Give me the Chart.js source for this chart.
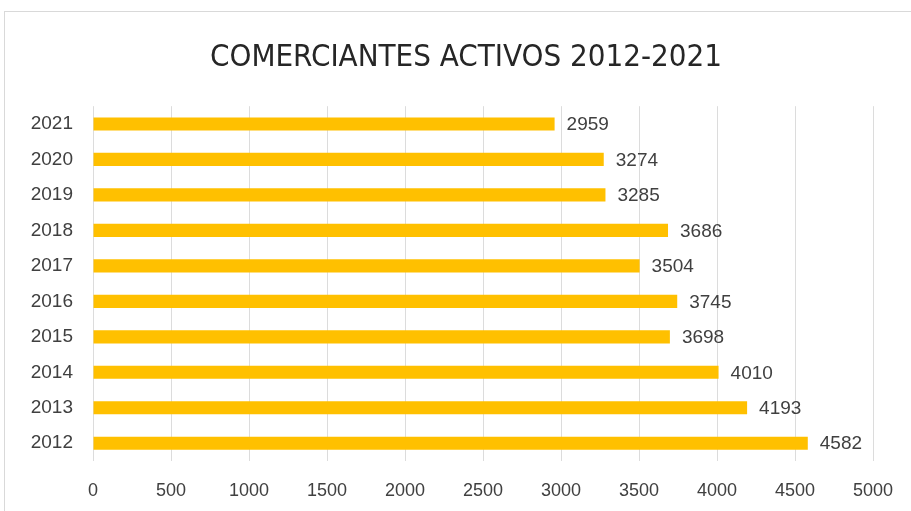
<!DOCTYPE html>
<html>
<head>
<meta charset="utf-8">
<title>Comerciantes activos 2012-2021</title>
<script src="https://cdn.jsdelivr.net/npm/chart.js@4.4.1/dist/chart.umd.min.js"></script>
<style>
  html, body { margin: 0; padding: 0; background: #ffffff; }
  #wrap { position: relative; width: 911px; height: 511px; overflow: hidden; }
  #frame {
    position: absolute; left: 4px; top: 11px; width: 1000px; height: 1000px;
    border: 1px solid #d9d9d9; box-sizing: border-box;
  }
  canvas { position: absolute; left: 0; top: 0; }
</style>
</head>
<body>
<div id="wrap">
  <div id="frame"></div>
  <canvas id="chart" width="911" height="511"></canvas>
</div>
<script>
(function () {
  'use strict';

  // --- Data ---
  const years = ['2021', '2020', '2019', '2018', '2017', '2016', '2015', '2014', '2013', '2012'];
  const merchants = [2959, 3274, 3285, 3686, 3504, 3745, 3698, 4010, 4193, 4582];
  const xTicks = [0, 500, 1000, 1500, 2000, 2500, 3000, 3500, 4000, 4500, 5000];

  const BAR_COLOR = '#FFC000';
  const TEXT_COLOR = '#404040';
  const LABEL_FONT = "'Liberation Sans', 'Open Sans', Arial, sans-serif";
  const TITLE_FONT = "'Liberation Sans Narrow', 'DejaVu Sans Condensed', 'Liberation Sans', sans-serif";

  // value labels to the right of each bar
  const valueLabels = {
    id: 'valueLabels',
    afterDatasetsDraw: function (chart) {
      const meta = chart.getDatasetMeta(0);
      const ctx = chart.ctx;
      ctx.save();
      ctx.font = '19px ' + LABEL_FONT;
      ctx.fillStyle = TEXT_COLOR;
      ctx.textAlign = 'left';
      ctx.textBaseline = 'middle';
      meta.data.forEach(function (bar, i) {
        ctx.fillText(String(merchants[i]), bar.x + 12, bar.y + 1);
      });
      ctx.restore();
    }
  };

  new Chart(document.getElementById('chart'), {
    type: 'bar',
    data: {
      labels: years,
      datasets: [{
        label: 'Comerciantes activos',
        data: merchants,
        backgroundColor: BAR_COLOR,
        borderWidth: 0,
        categoryPercentage: 1,
        barPercentage: 0.37
      }]
    },
    options: {
      indexAxis: 'y',
      responsive: false,
      animation: false,
      layout: { padding: { top: 10, left: 21, right: 0, bottom: 12 } },
      plugins: {
        legend: { display: false },
        tooltip: { enabled: false },
        title: {
          display: true,
          text: 'COMERCIANTES ACTIVOS 2012-2021',
          color: '#262626',
          font: { family: TITLE_FONT, size: 31, weight: 'normal' },
          padding: { top: 29, bottom: 30 }
        }
      },
      scales: {
        x: {
          min: 0,
          max: 5000,
          afterBuildTicks: function (scale) {
            scale.ticks = xTicks.map(function (v) { return { value: v }; });
          },
          afterFit: function (scale) {
            scale.paddingRight = 38;
            scale.height = 38;
          },
          grid: { color: '#dcdcdc', drawTicks: false },
          border: { display: false },
          ticks: {
            color: TEXT_COLOR,
            font: { family: LABEL_FONT, size: 18 },
            padding: 19,
            maxRotation: 0,
            autoSkip: false,
            callback: function (value) { return String(value); }
          }
        },
        y: {
          afterFit: function (scale) {
            scale.width = 72;
          },
          grid: { display: false, drawTicks: false },
          border: { display: false },
          ticks: {
            color: TEXT_COLOR,
            font: { family: LABEL_FONT, size: 19 },
            padding: 20
          }
        }
      }
    },
    plugins: [valueLabels]
  });
})();
</script>
</body>
</html>
